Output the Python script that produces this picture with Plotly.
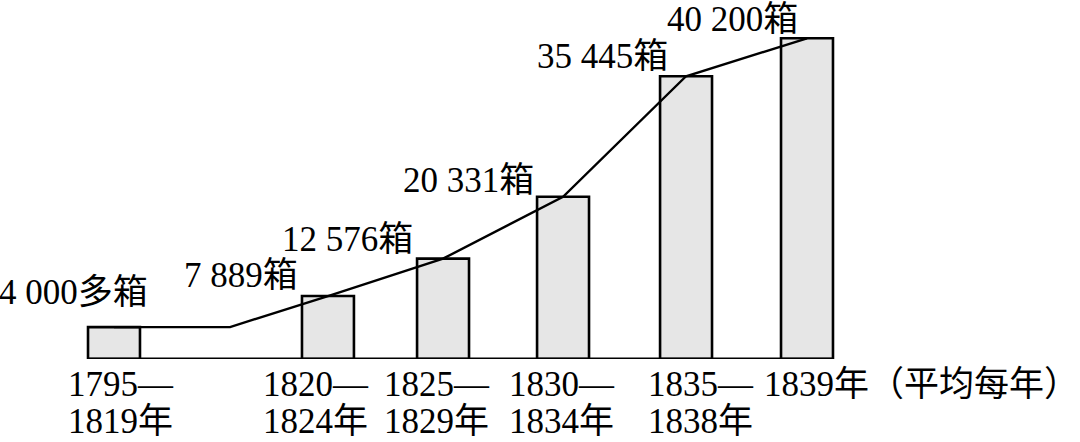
import plotly.graph_objects as go

# ---- data ----
periods_top = ["1795—", "1820—", "1825—", "1830—", "1835—", "1839年（平均每年）"]
periods_bottom = ["1819年", "1824年", "1829年", "1834年", "1838年", ""]
chests = [4000, 7889, 12576, 20331, 35445, 40200]
value_labels = ["4 000多箱", "7 889箱", "12 576箱", "20 331箱", "35 445箱", "40 200箱"]

# ---- layout (slot positions of the bars along the x axis, and label nudges) ----
slots = [0, 1.783, 2.742, 3.742, 4.767, 5.775]
bend_slot = 0.967
bar_w = 0.433
val_dx = [36, -28, -28, -27, -16, -7]
val_dy = [35, 21, 19, 16, 20, 19]
cat_dx = [-47, -66, -60, -55, -39, -44]

FONT = "Liberation Serif, Times New Roman, Noto Sans CJK SC, serif"
FS = 35

fig = go.Figure()

# connecting line (drawn first so the bars cover it)
line_x = [slots[0], bend_slot] + slots[1:]
line_y = [chests[0], chests[0]] + chests[1:]
fig.add_trace(go.Scatter(x=line_x, y=line_y, mode="lines",
                         line=dict(color="black", width=2.4),
                         hoverinfo="skip", showlegend=False))

fig.add_trace(go.Bar(x=slots, y=chests, width=bar_w,
                     marker=dict(color="#e6e6e6", line=dict(color="black", width=2.6)),
                     showlegend=False))

# baseline
fig.add_shape(type="line", xref="x", yref="y",
              x0=slots[0] - bar_w / 2, x1=slots[-1] + bar_w / 2, y0=0, y1=0,
              line=dict(color="black", width=3))

ann = []
for i in range(len(chests)):
    ann.append(dict(x=slots[i], y=chests[i], xref="x", yref="y",
                    text=value_labels[i], showarrow=False,
                    xanchor="right", yanchor="middle",
                    xshift=val_dx[i], yshift=val_dy[i],
                    font=dict(family=FONT, size=FS, color="black")))
    ann.append(dict(x=slots[i], y=0, xref="x", yref="y",
                    text=periods_top[i], showarrow=False, borderpad=0,
                    xanchor="left", yanchor="middle",
                    xshift=cat_dx[i], yshift=-25,
                    font=dict(family=FONT, size=FS, color="black")))
    if periods_bottom[i]:
        ann.append(dict(x=slots[i], y=0, xref="x", yref="y",
                        text=periods_bottom[i], showarrow=False, borderpad=0,
                        xanchor="left", yanchor="middle",
                        xshift=cat_dx[i], yshift=-62,
                        font=dict(family=FONT, size=FS, color="black")))

fig.update_layout(
    width=1080, height=442,
    margin=dict(l=0, r=0, t=0, b=83),
    paper_bgcolor="white", plot_bgcolor="white",
    annotations=ann,
    xaxis=dict(range=[-0.95, 8.05], visible=False, fixedrange=True),
    yaxis=dict(range=[0, 45000], visible=False, fixedrange=True),
)

fig.write_html("out.html",
               config={"displayModeBar": False},
               post_script="document.body.style.margin='0';document.body.style.overflow='hidden';")
